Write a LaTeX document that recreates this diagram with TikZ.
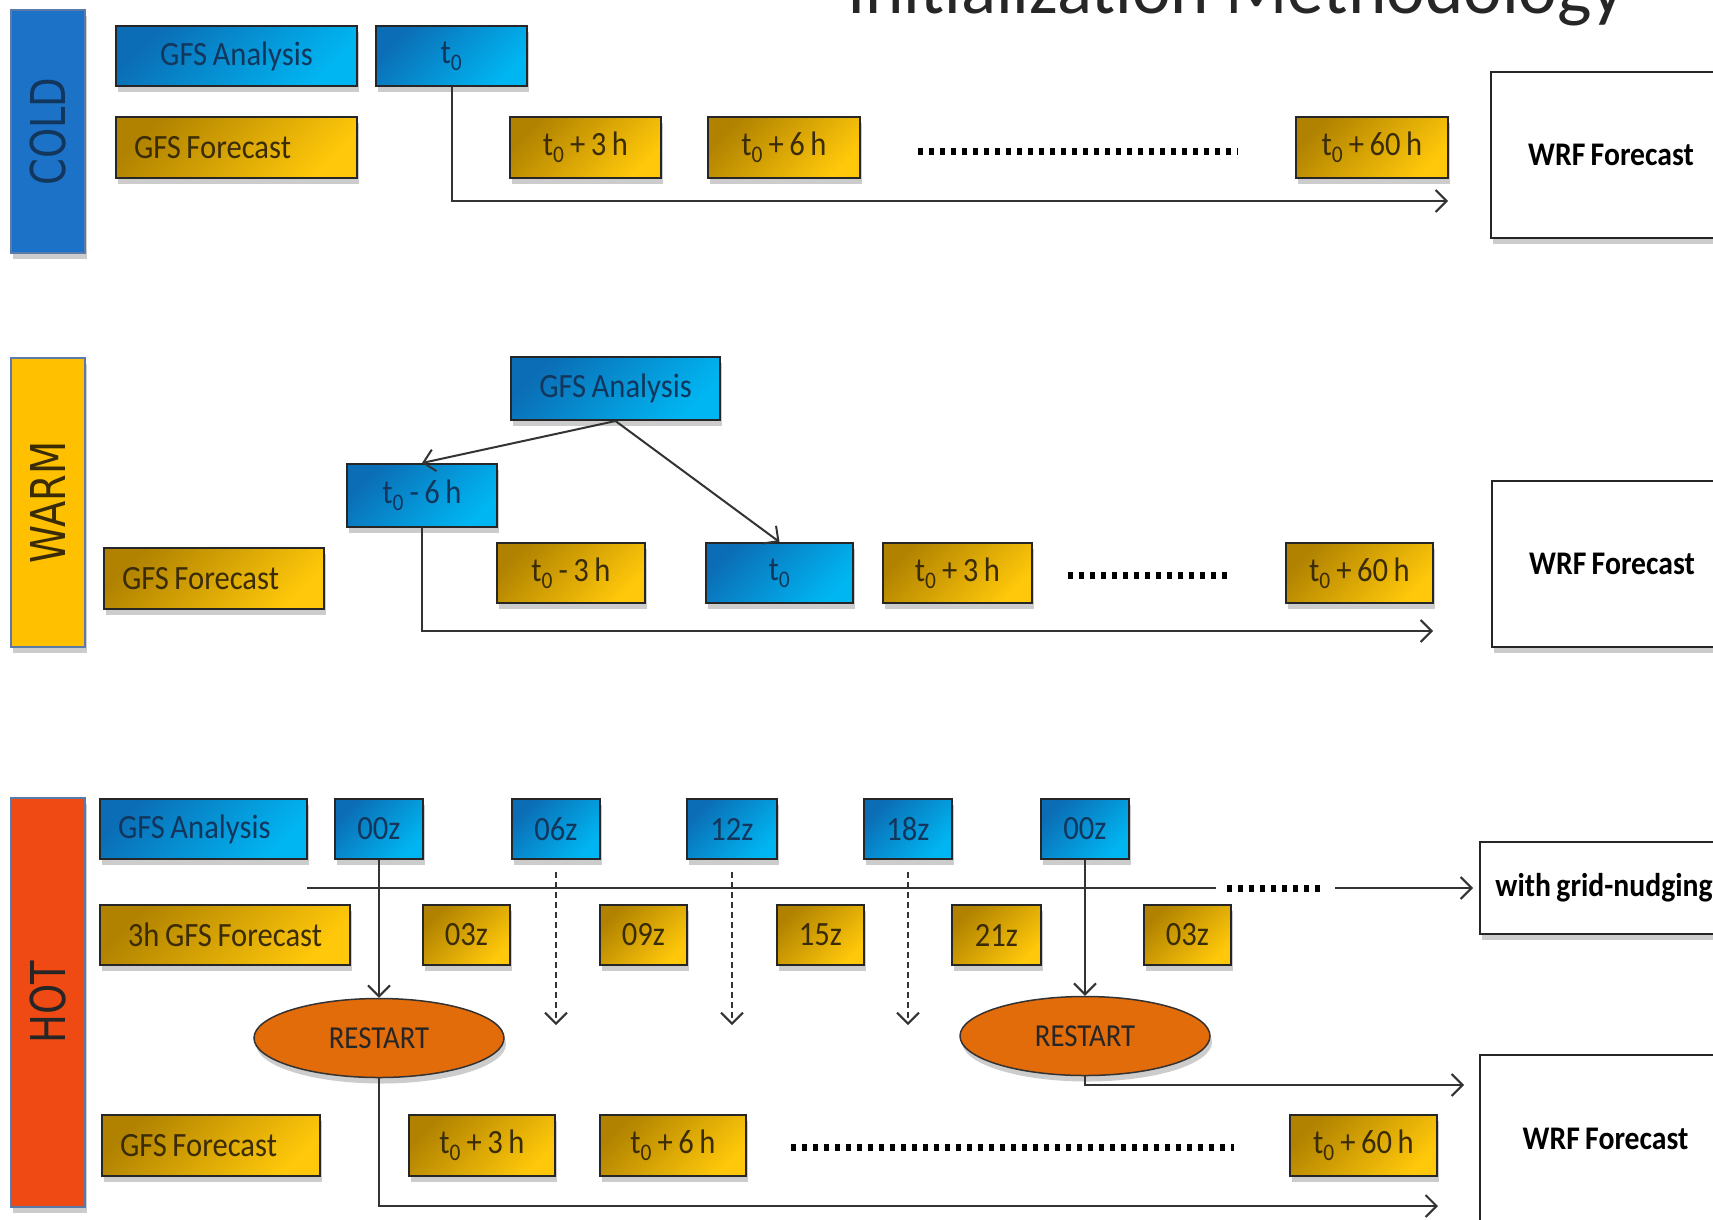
\documentclass[tikz,border=0pt]{standalone}
\usepackage{fontspec}
\setmainfont{Carlito}[FakeStretch=0.9, WordSpace=0.8]
\newfontfamily\titlefont{Carlito}
\newfontfamily\barfont[FakeStretch=0.8]{DejaVu Sans}
\usetikzlibrary{positioning,shapes.geometric,shadows,arrows.meta}

\definecolor{anaD}{HTML}{0B6DB5}
\definecolor{anaL}{HTML}{00B6F2}
\definecolor{anaT}{HTML}{12365C}
\definecolor{fcD}{HTML}{B08200}
\definecolor{fcL}{HTML}{FFC80A}
\definecolor{fcT}{HTML}{3B2C08}
\definecolor{coldC}{HTML}{1C72C6}
\definecolor{warmC}{HTML}{FFC000}
\definecolor{hotC}{HTML}{EF4A14}
\definecolor{restC}{HTML}{E26B0A}
\definecolor{barline}{HTML}{5A7AA8}

\newcommand{\tz}{t\textsubscript{0}}
\newcommand{\lefttext}[2]{\makebox[#1pt][l]{#2}}

\tikzset{
  wh/.style 2 args={minimum width=#1pt, minimum height=#2pt},
  box/.style={draw=black!85, line width=2pt, inner sep=0pt,
    font=\fontsize{34}{38}\selectfont,
    drop shadow={shadow xshift=2pt, shadow yshift=-6pt, fill=black, opacity=0.2}},
  ana/.style={box, top color=anaD, bottom color=anaL, shading angle=45, text=anaT},
  fcst/.style={box, top color=fcD, bottom color=fcL, shading angle=45, text=fcT},
  flush/.style={inner xsep=18pt},
  wrf/.style={box, fill=white, text=black, font=\bfseries\fontsize{33}{36}\selectfont},
  bar/.style={draw=barline, line width=1.5pt, minimum width=74pt, inner sep=0pt,
    drop shadow={shadow xshift=2pt, shadow yshift=-6pt, fill=black, opacity=0.2}},
  barlabel/.style={rotate=90, font=\barfont\fontsize{48}{50}\selectfont},
  restart/.style={ellipse, draw=black!80, line width=1.5pt, fill=restC, text=black!85,
    font=\fontsize{32}{36}\selectfont, inner sep=0pt, wh={250}{79},
    drop shadow={shadow xshift=2pt, shadow yshift=-6pt, fill=black, opacity=0.2}},
  conn/.style={draw=black!80, line width=2pt},
  dotrow/.style={line width=7pt, dash pattern=on 5pt off 6pt},
  >={Straight Barb[length=11pt,width=22pt,line width=2pt]}
}

\begin{document}
\begin{tikzpicture}[x=1pt,y=-1pt]
  \useasboundingbox (0,0) rectangle (1713,1219);

  % title, cut by the page edge
  \node [anchor=base west, text=black!85, font=\titlefont\fontsize{73}{80}\selectfont, inner sep=0pt]
    (title) at (847,13) {Initialization Methodology};

  % cold start
  \node [bar, fill=coldC, minimum height=243pt] (cold) at (48,131.5) {};
  \node [barlabel, text=anaT] (coldlabel) at (cold.center) {COLD};
  \node [ana, wh={241}{60}] (cgfsa) at (236.5,56) {GFS Analysis};
  \node [ana, wh={151}{60}, right=17pt of cgfsa] (ct0) {\tz};
  \node [fcst, flush, minimum height=61pt] (cgfsf) at (236.5,147.5) {\lefttext{205}{GFS Forecast}};
  \node [fcst, wh={151}{61}] (cp3) at (585.5,147.5) {\tz{} + 3 h};
  \node [fcst, wh={152}{61}, right=45pt of cp3] (cp6) {\tz{} + 6 h};
  \node [fcst, wh={152}{61}] (cp60) at (1372,147.5) {\tz{} + 60 h};
  \node [wrf, wh={240}{166}] (cwrf) at (1611,155) {WRF Forecast};
  \draw [dotrow] (918,151) -- (1238,151);
  \coordinate (cend) at (1448,201);
  \draw [conn, ->] (ct0.south) |- (cend);

  % warm start
  \node [bar, fill=warmC, minimum height=289pt] (warm) at (48,502.5) {};
  \node [barlabel, text=fcT] (warmlabel) at (warm.center) {WARM};
  \node [ana, wh={209}{63}] (wgfsa) at (615.5,388.5) {GFS Analysis};
  \node [ana, wh={150}{63}] (wm6) at (422,495.5) {\tz{} - 6 h};
  \node [fcst, flush, minimum height=61pt] (wgfsf) at (214,578.5) {\lefttext{184}{GFS Forecast}};
  \node [fcst, wh={148}{60}] (wm3) at (571,573) {\tz{} - 3 h};
  \node [ana, wh={147}{60}] (wt0) at (779.5,573) {\tz};
  \node [fcst, wh={149}{60}] (wp3) at (957.5,573) {\tz{} + 3 h};
  \node [fcst, wh={147}{60}] (wp60) at (1359.5,573) {\tz{} + 60 h};
  \node [wrf, wh={240}{166}] (wwrf) at (1612,564) {WRF Forecast};
  \draw [dotrow] (1068,575) -- (1230,575);
  \draw [conn, ->] (wgfsa.south) -- (wm6.north);
  \draw [conn, ->] (wgfsa.south) -- (wt0.north);
  \coordinate (wend) at (1433,631);
  \draw [conn, ->] (wm6.south) |- (wend);

  % hot start
  \node [bar, fill=hotC, minimum height=409pt] (hot) at (48,1002.5) {};
  \node [barlabel, text=black!85] (hotlabel) at (hot.center) {HOT};
  \node [ana, flush, minimum height=60pt] (hgfsa) at (203.5,829) {\lefttext{171}{GFS Analysis}};
  \node [ana, wh={88}{60}] (h00) at (379,829) {00z};
  \node [ana, wh={88}{60}] (h06) at (556,829) {06z};
  \node [ana, wh={90}{60}] (h12) at (732,829) {12z};
  \node [ana, wh={88}{60}] (h18) at (908,829) {18z};
  \node [ana, wh={88}{60}] (h00b) at (1085,829) {00z};
  \node [fcst, wh={250}{60}] (h3f) at (225,935) {3h GFS Forecast};
  \node [fcst, wh={87}{60}] (h03) at (466.5,935) {03z};
  \node [fcst, wh={87}{60}] (h09) at (643.5,935) {09z};
  \node [fcst, wh={87}{60}] (h15) at (820.5,935) {15z};
  \node [fcst, wh={89}{60}] (h21) at (996.5,935) {21z};
  \node [fcst, wh={87}{60}] (h03b) at (1187.5,935) {03z};
  \node [restart] (r1) at (379,1038) {RESTART};
  \node [restart] (r2) at (1085,1036) {RESTART};
  \node [fcst, flush, minimum height=61pt] (hgfsf) at (211,1145.5) {\lefttext{182}{GFS Forecast}};
  \node [fcst, wh={146}{61}] (hp3) at (482,1145.5) {\tz{} + 3 h};
  \node [fcst, wh={146}{61}] (hp6) at (673,1145.5) {\tz{} + 6 h};
  \node [fcst, wh={147}{61}] (hp60) at (1363.5,1145.5) {\tz{} + 60 h};
  \node [wrf, wh={248}{92}] (nudge) at (1604,888) {with grid-nudging};
  \node [wrf, wh={251}{168}] (hwrf) at (1605.5,1139) {WRF Forecast};

  % nudging time line
  \coordinate (tick0) at (307,888);
  \coordinate (tick1) at (1216,888);
  \coordinate (tick2) at (1335,888);
  \draw [conn] (tick0) -- (tick1);
  \draw [dotrow] (1227,888) -- (1320,888);
  \draw [conn, ->, shorten >=6pt] (tick2) -- (nudge.west);

  % restarts
  \draw [conn, ->] (h00.south) -- (r1.north);
  \draw [conn, ->] (h00b.south) -- (r2.north);
  \draw [conn, ->, line width=1.5pt, dash pattern=on 6pt off 4pt]
    ([yshift=-12pt]h06.south) -- ++(0,153);
  \draw [conn, ->, line width=1.5pt, dash pattern=on 6pt off 4pt]
    ([yshift=-12pt]h12.south) -- ++(0,153);
  \draw [conn, ->, line width=1.5pt, dash pattern=on 6pt off 4pt]
    ([yshift=-12pt]h18.south) -- ++(0,153);
  \coordinate (r2end) at (1464,1085);
  \draw [conn, ->] (r2.south) |- (r2end);
  \coordinate (r1end) at (1438,1206);
  \draw [conn, ->] (r1.south) |- (r1end);
  \draw [dotrow] (791,1147) -- (1234,1147);
\end{tikzpicture}
\end{document}
